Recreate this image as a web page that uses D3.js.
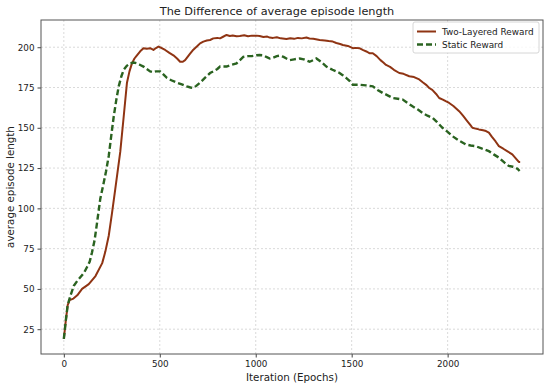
<!DOCTYPE html>
<html>
<head>
<meta charset="utf-8">
<script src="https://cdn.jsdelivr.net/npm/d3@7"></script>
<style>
  body { margin: 0; background: #fff; }
  svg text { font-family: "DejaVu Sans", sans-serif; fill: #222; }
</style>
</head>
<body>
<div id="chart"></div>
<script>
// Two-Layered Reward: [iteration, avg episode length]
const twoLayered = [
  [0,19],[10,30],[20,40],[30,43],[50,44],[70,46],[95,50],[130,53],[165,58],[200,66],[216,73],[234,83],
  [251,97],[268,112],[294,135],[312,157],[329,178],[342,185],[355,190],[368,193],[381,195],[398,197.5],
  [415,199.4],[432,199],[450,199.4],[467,198.3],[480,199.5],[493,200.4],[510,199.5],[528,198.3],[550,196.5],
  [571,195],[590,193],[606,191],[620,191],[632,192],[645,194],[658,196],[675,198.5],[693,200.4],[710,202.4],
  [727,203.5],[745,204.2],[762,204.5],[779,205.5],[800,205.8],[814,205.5],[830,206.5],[848,207.6],[865,207],
  [880,207.3],[900,206.8],[917,207],[940,207.4],[960,206.8],[980,207.2],[1004,207.2],[1020,207],[1040,206.4],
  [1060,206.6],[1073,206],[1090,205.8],[1110,206.2],[1130,205.5],[1160,205.1],[1180,205.6],[1200,205.2],
  [1220,205.8],[1240,205.5],[1264,206],[1280,205.4],[1300,205.2],[1333,204.5],[1360,204.2],[1380,203.8],
  [1402,203.5],[1420,202.6],[1440,202],[1454,201.4],[1480,200.8],[1506,199.4],[1520,199.6],[1540,199.4],
  [1560,198.2],[1580,197.2],[1592,196.3],[1610,196.3],[1630,194.5],[1650,192],[1665,190.5],[1679,189],
  [1700,187.8],[1720,186],[1748,184],[1770,183.5],[1800,182],[1825,181.5],[1852,180],[1870,178.3],[1890,176.5],
  [1904,174.7],[1920,173.5],[1940,171],[1956,168.5],[1975,167.5],[1990,166.5],[2008,165.4],[2030,163.5],
  [2060,160.3],[2080,157.5],[2100,154.5],[2120,151.5],[2129,150],[2145,149.5],[2163,149],[2185,148.5],
  [2200,148],[2215,147],[2230,144.5],[2250,141.5],[2267,138.6],[2290,137],[2310,135.5],[2337,133.5],
  [2355,131],[2371,128.8],[2378,128.8]
];

// Static Reward
const staticReward = [
  [0,19],[10,30],[20,40],[30,44],[35,46],[52,52],[70,55],[87,57.4],[105,60],[121,63.6],[135,67],[147,72.8],
  [160,80],[173,91],[190,106],[208,116],[220,123],[234,132.5],[247,145],[260,157],[273,167],[286,175.7],
  [300,182],[312,186],[328,188.5],[346,190],[364,190.5],[381,190],[398,189],[415,188],[432,186.5],[450,185],
  [465,184.5],[480,185],[502,185],[520,183],[537,181],[560,179.5],[589,178],[615,177],[641,175.7],[660,175],
  [675,174.7],[690,176],[710,178],[735,181],[762,184],[779,185],[800,186.5],[814,188],[830,188],[848,188],
  [870,189],[900,190],[918,192],[935,194],[960,194.5],[980,194.5],[1004,195],[1020,195.2],[1038,195],
  [1055,194],[1073,193],[1090,193.5],[1110,194.5],[1125,194.8],[1145,194],[1160,193],[1177,192],[1200,192.5],
  [1229,193],[1250,192.5],[1281,191],[1300,192],[1316,193],[1340,191],[1368,188],[1400,186],[1437,184],
  [1455,182.5],[1471,181],[1490,179],[1506,176.7],[1540,176.7],[1575,176.3],[1610,175.7],[1635,173.5],
  [1662,171.6],[1690,170],[1714,168.5],[1740,168],[1766,167.5],[1790,165.5],[1817,163.3],[1845,161.3],
  [1869,159.3],[1895,157.5],[1921,156.2],[1945,153.5],[1973,150],[2000,147.5],[2025,144.8],[2060,142],
  [2094,139.7],[2120,139],[2146,138.6],[2180,137],[2215,135.5],[2240,133.5],[2267,131.5],[2295,128.5],
  [2319,126.3],[2340,125.8],[2354,125.3],[2365,124.5],[2375,123.2]
];

const xTicks = [0, 500, 1000, 1500, 2000];
const yTicks = [25, 50, 75, 100, 125, 150, 175, 200];
const seriesNames = ["Two-Layered Reward", "Static Reward"];

const W = 550, H = 387;
const m = { top: 20, right: 7, bottom: 33, left: 41 };
const RED = "#8f3413", GREEN = "#2a6320";

const svg = d3.select("#chart").append("svg")
  .attr("width", W)
  .attr("height", H);

const x = d3.scaleLinear().domain([-119, 2497]).range([m.left, W - m.right]);
const y = d3.scaleLinear().domain([9.6, 216.9]).range([H - m.bottom, m.top]);

// grid
svg.append("g").selectAll("line").data(xTicks).join("line")
  .attr("x1", d => x(d)).attr("x2", d => x(d))
  .attr("y1", m.top).attr("y2", H - m.bottom)
  .attr("stroke", "#d0d0d0").attr("stroke-width", 0.8).attr("stroke-dasharray", "2,2");
svg.append("g").selectAll("line").data(yTicks).join("line")
  .attr("x1", m.left).attr("x2", W - m.right)
  .attr("y1", d => y(d)).attr("y2", d => y(d))
  .attr("stroke", "#d0d0d0").attr("stroke-width", 0.8).attr("stroke-dasharray", "2,2");

// axes
const xAxis = svg.append("g")
  .attr("transform", `translate(0,${H - m.bottom})`)
  .call(d3.axisBottom(x).tickValues(xTicks).tickFormat(d3.format("d")).tickSize(3.5).tickPadding(3));
const yAxis = svg.append("g")
  .attr("transform", `translate(${m.left},0)`)
  .call(d3.axisLeft(y).tickValues(yTicks).tickFormat(d3.format("d")).tickSize(3.5).tickPadding(3));
[xAxis, yAxis].forEach(a => {
  a.select(".domain").remove();
  a.selectAll("line").attr("stroke", "#444");
  a.selectAll("text").attr("font-size", 8.8).attr("fill", "#222")
    .attr("font-family", "DejaVu Sans, sans-serif");
});

// frame
svg.append("rect")
  .attr("x", m.left).attr("y", m.top)
  .attr("width", W - m.left - m.right).attr("height", H - m.top - m.bottom)
  .attr("fill", "none").attr("stroke", "#555").attr("stroke-width", 1);

// lines
const line = d3.line().x(d => x(d[0])).y(d => y(d[1]));
svg.append("path").datum(twoLayered)
  .attr("d", line).attr("fill", "none")
  .attr("stroke", RED).attr("stroke-width", 2).attr("stroke-linejoin", "round");
svg.append("path").datum(staticReward)
  .attr("d", line).attr("fill", "none")
  .attr("stroke", GREEN).attr("stroke-width", 2.4)
  .attr("stroke-dasharray", "6,3");

// title & labels
svg.append("text").attr("x", 277).attr("y", 15)
  .attr("text-anchor", "middle").attr("font-size", 11.3)
  .text("The Difference of average episode length");
svg.append("text").attr("x", (m.left + W - m.right) / 2).attr("y", 381)
  .attr("text-anchor", "middle").attr("font-size", 10.3)
  .text("Iteration (Epochs)");
svg.append("text")
  .attr("transform", `translate(14,${(m.top + H - m.bottom) / 2}) rotate(-90)`)
  .attr("text-anchor", "middle").attr("font-size", 10.3)
  .text("average episode length");

// legend
const lg = svg.append("g").attr("transform", "translate(413,22)");
lg.append("rect").attr("width", 126).attr("height", 31).attr("rx", 2)
  .attr("fill", "#fff").attr("fill-opacity", 0.8).attr("stroke", "#ccc").attr("stroke-width", 0.8);
const styles = [
  { color: RED, dash: null, w: 2 },
  { color: GREEN, dash: "6,3", w: 2.4 }
];
seriesNames.forEach((name, i) => {
  const yy = 9.5 + i * 13;
  lg.append("line").attr("x1", 4).attr("x2", 23).attr("y1", yy).attr("y2", yy)
    .attr("stroke", styles[i].color).attr("stroke-width", styles[i].w)
    .attr("stroke-dasharray", styles[i].dash);
  lg.append("text").attr("x", 29).attr("y", yy).attr("dy", "0.35em")
    .attr("font-size", 8.9).text(name);
});
</script>
</body>
</html>
